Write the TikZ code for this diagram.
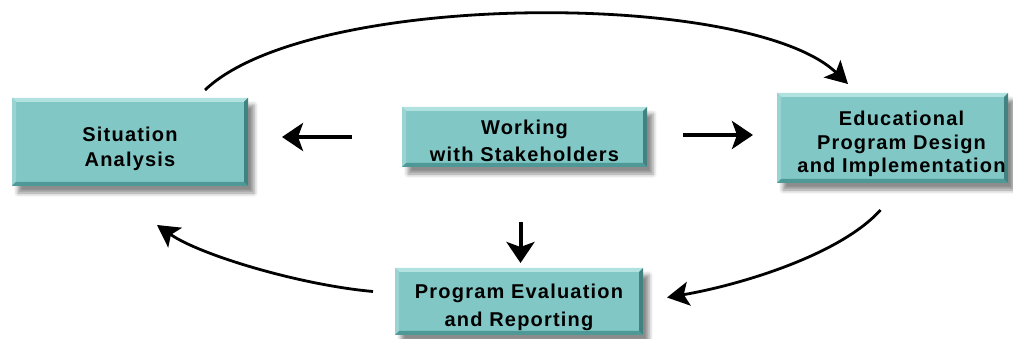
\documentclass[tikz,border=0pt]{standalone}
\usepackage{fontspec}
\setmainfont{Liberation Sans}[LetterSpace=6]
\usetikzlibrary{arrows.meta,calc,shadows.blur}
\definecolor{face}{HTML}{80C7C5}
\definecolor{bevlight}{HTML}{B2E2E0}
\definecolor{bevmid}{HTML}{9AD4D2}
\definecolor{bevdark}{HTML}{4E9997}
\tikzset{
  stage/.style={rectangle, fill=face, inner sep=0pt, outer sep=0pt,
    blur shadow={shadow xshift=6pt, shadow yshift=-7pt, shadow blur radius=4pt, shadow opacity=45}},
  stagetext/.style={inner sep=0pt, align=center,
    font=\fontsize{20}{25}\selectfont\bfseries},
  flow/.style={line width=4pt, -{Stealth[length=21pt,width=28pt,inset=5pt]}},
  curve/.style={line width=2.8pt, -{Stealth[length=22pt,width=24pt,inset=5pt]}}
}
\newcommand\bevel[1]{%
  \fill[bevlight] (#1.north west) -- (#1.north east) -- ($(#1.north east)+(-4,4)$) -- ($(#1.north west)+(4,4)$) -- cycle;
  \fill[bevmid] (#1.north west) -- ($(#1.north west)+(4,4)$) -- ($(#1.south west)+(4,-4)$) -- (#1.south west) -- cycle;
  \fill[bevdark] (#1.south west) -- (#1.south east) -- ($(#1.south east)+(-4,-4)$) -- ($(#1.south west)+(4,-4)$) -- cycle;
  \fill[bevdark!85!black] (#1.north east) -- (#1.south east) -- ($(#1.south east)+(-4,-4)$) -- ($(#1.north east)+(-4,4)$) -- cycle;
}
\begin{document}
\begin{tikzpicture}[x=1pt,y=-1pt]
\useasboundingbox (0,0) rectangle (1013,339);
\node[stage, minimum width=236pt, minimum height=88pt] (sit) at (130,142) {};
\node[stage, minimum width=245pt, minimum height=60pt] (work) at (524.5,137) {};
\node[stage, minimum width=231pt, minimum height=90pt] (edu) at (892.5,138) {};
\node[stage, minimum width=248pt, minimum height=67pt] (eval) at (519,301.5) {};
\bevel{sit}\bevel{work}\bevel{edu}\bevel{eval}
\node[stagetext] (sitt) at ($(sit)+(0,7)$) {Situation\\Analysis};
\node[stagetext, font=\fontsize{20}{27}\selectfont\bfseries] (workt) at ($(work)+(0,4)$) {Working\\with Stakeholders};
\node[stagetext, font=\fontsize{20}{23.5}\selectfont\bfseries] (edut) at ($(edu)+(9,6)$) {Educational\\Program Design\\and Implementation};
\node[stagetext, font=\fontsize{20}{28}\selectfont\bfseries] (evalt) at ($(eval)+(0,6)$) {Program Evaluation\\and Reporting};
% straight arrows
\draw[flow, shorten <=50pt, shorten >=34pt] (work.west) -- (work.west -| sit.east);
\draw[flow, shorten <=36pt, shorten >=24pt] ([yshift=2pt]work.east) -- ([yshift=2pt]work.east -| edu.west);
\draw[flow, shorten <=55pt, shorten >=5pt] ([xshift=-4pt]work.south) -- ([xshift=-4pt]work.south |- eval.north);
% curved arrows
\coordinate (c1) at ($(sit.north east)+(-43,-8)$);
\coordinate (c2) at ($(edu.north west)+(71,-9)$);
\draw[curve] (c1) .. controls (310,-10) and (750,-10) .. (c2);
\coordinate (c3) at ($(eval.west)+(-22,-10)$);
\coordinate (c4) at ($(sit.south)+(27,39)$);
\draw[curve] (c3) .. controls (300,285) and (200,255) .. (c4);
\coordinate (c5) at ($(edu.south)+(-12,27)$);
\coordinate (c6) at ($(eval.east)+(24,-4)$);
\draw[curve] (c5) .. controls (840,255) and (740,285) .. (c6);
\end{tikzpicture}
\end{document}
